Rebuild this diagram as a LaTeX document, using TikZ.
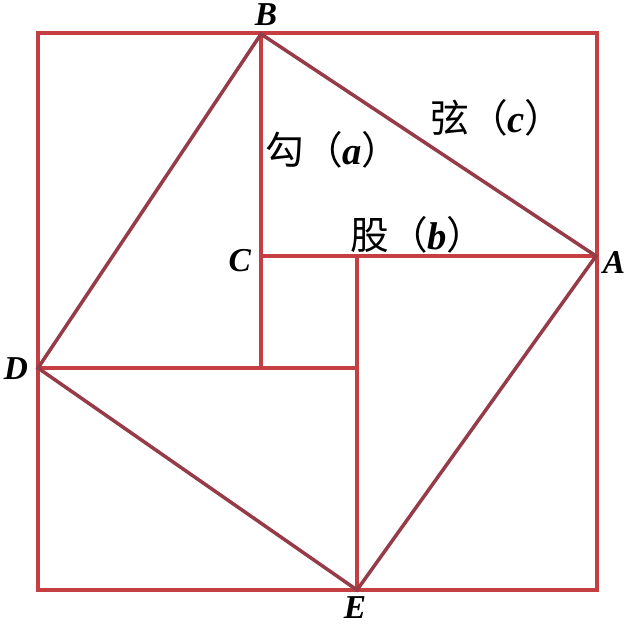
\documentclass[tikz,border=0pt]{standalone}
\usepackage{fontspec}
\setmainfont{Liberation Serif}
\newfontfamily\cjk{Noto Sans CJK SC}
\definecolor{framered}{RGB}{196,62,66}
\definecolor{sidered}{RGB}{150,60,72}
\newcommand{\pt}[1]{\textbf{\textit{#1}}}

\begin{document}
\begin{tikzpicture}[x=0.02cm,y=-0.02cm,line width=2pt]
\useasboundingbox (0,0) rectangle (626,626);
\coordinate (P1) at (38,33);
\coordinate (P2) at (597,590);
\coordinate (B) at (261,34);
\coordinate (C) at (261,256);
\coordinate (A) at (596,256);
\coordinate (D) at (38,368);
\coordinate (E) at (357,590);
\coordinate (F) at (261,368);
\coordinate (G) at (357,256);
\coordinate (H) at (357,368);
\draw[framered] (P1) rectangle (P2);
\draw[framered] (B) -- (F);
\draw[framered] (C) -- (A);
\draw[framered] (D) -- (H);
\draw[framered] (G) -- (E);
\draw[sidered,line join=miter] (B) -- (A) -- (E) -- (D) -- cycle;
\node[font={\fontsize{19}{22}\selectfont}] (lB) at (266,15) {\pt{B}};
\node[font={\fontsize{19}{22}\selectfont}] (lC) at (240,261) {\pt{C}};
\node[font={\fontsize{19}{22}\selectfont}] (lA) at (614,262) {\pt{A}};
\node[font={\fontsize{19}{22}\selectfont}] (lD) at (16,369) {\pt{D}};
\node[font={\fontsize{19}{22}\selectfont},inner sep=0pt] (lE) at (355,608) {\pt{E}};
\node[font={\fontsize{22}{26}\selectfont}] (la) at (333,150) {{\cjk 勾（}\pt{a}{\cjk ）}};
\node[font={\fontsize{22}{26}\selectfont}] (lc) at (497,118) {{\cjk 弦（}\pt{c}{\cjk ）}};
\node[font={\fontsize{22}{26}\selectfont}] (lb) at (418,235) {{\cjk 股（}\pt{b}{\cjk ）}};
\end{tikzpicture}
\end{document}
